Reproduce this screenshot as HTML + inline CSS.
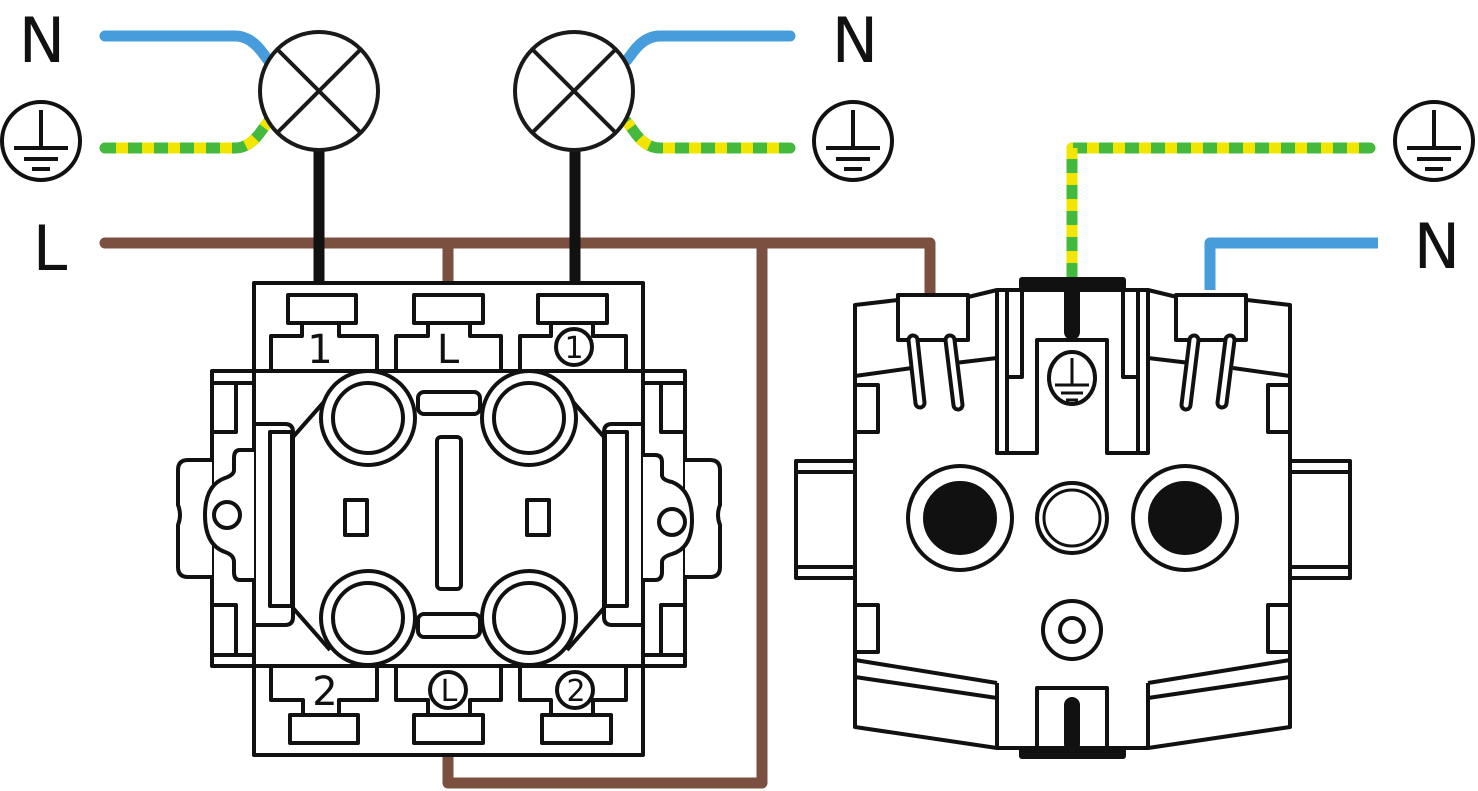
<!DOCTYPE html>
<html><head><meta charset="utf-8"><style>
html,body{margin:0;padding:0;background:#fff;}
svg{display:block;}
text{font-family:"DejaVu Sans","Liberation Sans",sans-serif;fill:#111;}
</style></head><body>
<svg width="1478" height="791" viewBox="0 0 1478 791" xmlns="http://www.w3.org/2000/svg">
<g fill="none" stroke-linecap="round" stroke-linejoin="round">
<path d="M105,243 H930 V292" stroke="#7b5040" stroke-width="11"/>
<path d="M448,243 V283" stroke="#7b5040" stroke-width="11"/>
<path d="M762,243 V783 H448 V757" stroke="#7b5040" stroke-width="11"/>
<path d="M105,36 H235 Q250,36 262,52 L268,60" stroke="#479ddb" stroke-width="11"/>
<path d="M790,36 H660 Q645,36 633,52 L627,60" stroke="#479ddb" stroke-width="11"/>
<path d="M1378,243 H1210 V290" stroke="#479ddb" stroke-width="11" stroke-linecap="butt"/>
<path d="M105,148 H235 Q250,148 262,130 L268,122" stroke="#45b93d" stroke-width="11"/>
<path d="M116,148 H235 Q250,148 262,130 L268,122" stroke="#f2e600" stroke-width="11" stroke-dasharray="12 14" stroke-linecap="butt"/>
<path d="M790,148 H660 Q645,148 633,130 L627,122" stroke="#45b93d" stroke-width="11"/>
<path d="M779,148 H660 Q645,148 633,130 L627,122" stroke="#f2e600" stroke-width="11" stroke-dasharray="12 14" stroke-linecap="butt"/>
<path d="M1370,148 H1072 V278" stroke="#45b93d" stroke-width="11"/>
<path d="M1359,148 H1072 V278" stroke="#f2e600" stroke-width="11" stroke-dasharray="12 14" stroke-linecap="butt"/>
<path d="M319,150 V283" stroke="#111" stroke-width="11" stroke-linecap="butt"/>
<path d="M575,150 V283" stroke="#111" stroke-width="11" stroke-linecap="butt"/>
</g>
<g stroke="#1a1a1a" stroke-width="4" fill="#fff">
<circle cx="319" cy="91" r="59"/>
<path d="M277,49 L361,133 M361,49 L277,133"/>
<circle cx="574" cy="91" r="59"/>
<path d="M532,49 L616,133 M616,49 L532,133"/>
</g>
<g stroke="#111" stroke-width="4" fill="none">
<circle cx="41" cy="141" r="39"/>
<path d="M41,110 V148 M14,148 H68 M24,159 H58 M32,169 H50"/>
<circle cx="853" cy="141" r="39"/>
<path d="M853,110 V148 M826,148 H880 M836,159 H870 M844,169 H862"/>
<circle cx="1434" cy="141" r="39"/>
<path d="M1434,110 V148 M1407,148 H1461 M1417,159 H1451 M1425,169 H1443"/>
</g>
<text x="42" y="62" font-size="62" text-anchor="middle">N</text>
<text x="50" y="270" font-size="62" text-anchor="middle">L</text>
<text x="855" y="62" font-size="62" text-anchor="middle">N</text>
<text x="1437" y="268" font-size="62" text-anchor="middle">N</text>

<g stroke="#111" stroke-width="4" fill="#fff" stroke-linejoin="round">
<rect x="254" y="283" width="389" height="472"/>
<path d="M271,371 V336 H302 V323 H339 V336 H377 V371"/>
<path d="M396,371 V336 H428 V323 H470 V336 H501 V371"/>
<path d="M520,371 V336 H551 V323 H593 V336 H626 V371"/>
<rect x="288" y="295" width="68" height="28"/>
<rect x="414" y="295" width="69" height="28"/>
<rect x="538" y="295" width="69" height="28"/>
<path d="M271,666 V700 H303 V715 H339 V700 H377 V666"/>
<path d="M396,666 V700 H428 V715 H470 V700 H501 V666"/>
<path d="M520,666 V700 H551 V715 H593 V700 H626 V666"/>
<rect x="290" y="715" width="68" height="28"/>
<rect x="414" y="715" width="69" height="28"/>
<rect x="542" y="715" width="69" height="28"/>
<rect x="212" y="371" width="473" height="295"/>
<path d="M254,371 V666 M643,371 V666" fill="none"/>
<path d="M212,383 H254 M236,383 V432 H212 M212,655 H254 M236,655 V605 H212" fill="none"/>
<path d="M685,383 H643 M661,383 V432 H685 M685,655 H643 M661,655 V605 H685" fill="none"/>
<path d="M212,460 H188 Q178,460 178,470 V505 Q182,515 178,525 V567 Q178,577 188,577 H212"/>
<path d="M254,450 H240 Q234,450 234,458 V470 Q234,475 225,478 Q205,485 205,515 Q205,545 225,552 Q234,555 234,562 V572 Q234,580 240,580 H254" />
<circle cx="227" cy="515" r="13"/>
<path d="M685,460 H710 Q720,460 720,470 V505 Q716,515 720,525 V567 Q720,577 710,577 H685"/>
<path d="M643,455 H655 Q662,455 662,462 V475 Q662,480 672,482 Q692,490 692,520 Q692,548 672,554 Q662,557 662,562 V572 Q662,580 655,580 H643"/>
<circle cx="672" cy="522" r="13"/>
<path d="M256,424 H285 Q293,424 293,432 V617 Q293,625 285,625 H256" fill="none"/>
<rect x="270" y="432" width="22" height="174"/>
<path d="M641,424 H612 Q604,424 604,432 V617 Q604,625 612,625 H641" fill="none"/>
<rect x="605" y="432" width="22" height="174"/>
<path d="M293,437 L330,395 M604,437 L567,395 M293,608 L330,650 M604,608 L567,650" fill="none"/>
<circle cx="368" cy="418" r="47"/><circle cx="368" cy="418" r="35"/>
<circle cx="529" cy="418" r="47"/><circle cx="529" cy="418" r="35"/>
<circle cx="368" cy="618" r="47"/><circle cx="368" cy="618" r="35"/>
<circle cx="529" cy="618" r="47"/><circle cx="529" cy="618" r="35"/>
<rect x="418" y="392" width="62" height="22" rx="6"/>
<rect x="418" y="614" width="62" height="23" rx="6"/>
<rect x="437" y="437" width="24" height="152" rx="4"/>
<rect x="345" y="500" width="22" height="35"/>
<rect x="527" y="500" width="22" height="35"/>
<circle cx="574" cy="347" r="18" fill="none"/>
<circle cx="448" cy="690" r="18" fill="none"/>
<circle cx="575" cy="690" r="18" fill="none"/>
</g>
<g font-size="40" text-anchor="middle">
<text x="320" y="363">1</text>
<text x="448" y="363">L</text>
<text x="325" y="705">2</text>
</g>
<g font-size="30" text-anchor="middle">
<text x="574" y="358">1</text>
<text x="449" y="701">L</text>
<text x="576" y="701">2</text>
</g>

<g stroke="#111" stroke-width="4" fill="#fff" stroke-linejoin="round">
<rect x="796" y="461" width="59" height="117"/>
<path d="M796,472 H855 M796,567 H855" fill="none"/>
<rect x="1290" y="461" width="60" height="117"/>
<path d="M1290,472 H1350 M1290,567 H1350" fill="none"/>
<path d="M855,305 L898,300 L968,297 L997,290 H1148 L1177,297 L1247,300 L1290,305 V727 L1148,748 H997 L855,727 Z"/>
<path d="M855,376 L912,368 M955,363 L997,358 M1290,376 L1233,368 M1190,363 L1148,358" fill="none"/>
<rect x="855" y="385" width="23" height="47"/>
<rect x="1268" y="385" width="22" height="47"/>
<rect x="855" y="605" width="23" height="47"/>
<rect x="1268" y="605" width="22" height="47"/>
<path d="M997,290 V453 H1037 V340 H1107 V453 H1148 V290" fill="none"/>
<path d="M1007,290 V453 M1138,290 V453" fill="none"/>
<path d="M1007,377 H1022 V290 M1138,377 H1123 V290" fill="none"/>
<ellipse cx="1072" cy="378" rx="23" ry="26"/>
<path d="M1072,358 V385 M1055,385 H1089 M1061,393 H1083 M1066,400 H1078" fill="none" stroke-width="3"/>
<rect x="898" y="295" width="70" height="45"/>
<rect x="1176" y="295" width="70" height="45"/>
<path d="M855,660 L997,683 M855,677 L997,698 M1290,660 L1148,683 M1290,677 L1148,698" fill="none"/>
<path d="M997,683 V748 M1148,683 V748" fill="none"/>
<rect x="1037" y="688" width="70" height="60"/>
<circle cx="960" cy="518" r="52"/>
<circle cx="960" cy="518" r="35" fill="#111"/>
<circle cx="1185" cy="518" r="52"/>
<circle cx="1185" cy="518" r="35" fill="#111"/>
<circle cx="1072" cy="518" r="35"/>
<circle cx="1072" cy="518" r="28" stroke-width="3"/>
<circle cx="1072" cy="630" r="29"/>
<circle cx="1072" cy="630" r="12"/>
</g>
<g stroke-linecap="round" fill="none">
<path d="M913,340 L920,403 M950,340 L958,405 M1194,340 L1186,405 M1230,340 L1222,403" stroke="#111" stroke-width="13"/>
<path d="M913,340 L920,403 M950,340 L958,405 M1194,340 L1186,405 M1230,340 L1222,403" stroke="#fff" stroke-width="5"/>
</g>
<g fill="#111">
<rect x="1019" y="277" width="107" height="13" rx="3"/>
<rect x="1064" y="285" width="16" height="55" rx="8"/>
<rect x="1019" y="747" width="107" height="12" rx="3"/>
<rect x="1064" y="697" width="16" height="55" rx="8"/>
</g>
</svg>
</body></html>
